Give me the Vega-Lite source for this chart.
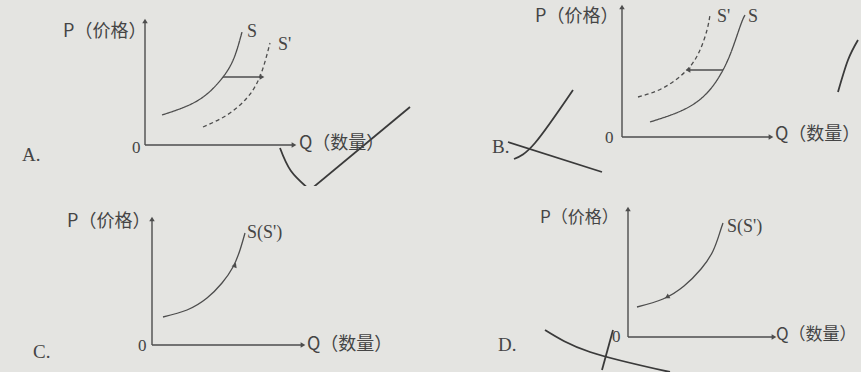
{
  "$schema": "https://vega.github.io/schema/vega-lite/v6.json",
  "background": "#e4e4e1",
  "padding": 0,
  "config": {"view": {"stroke": null}},
  "data": {"values": [
    {"panel":"A","kind":"seg","q":0,"p":0,"q2":0,"p2":12.3},
    {"panel":"A","kind":"seg","q":0,"p":0,"q2":14.8,"p2":0},
    {"panel":"A","kind":"seg","q":7.8,"p":6.8,"q2":11.5,"p2":6.8},
    {"panel":"A","kind":"head","q":0,"p":12.4,"dir":0},
    {"panel":"A","kind":"head","q":14.9,"p":0,"dir":90},
    {"panel":"A","kind":"head","q":11.7,"p":6.8,"dir":90},
    {"panel":"A","kind":"curve","id":"A-S","style":"solid","o":1,"q":1.7,"p":3.0},
    {"panel":"A","kind":"curve","id":"A-S","style":"solid","o":2,"q":4.2,"p":3.9},
    {"panel":"A","kind":"curve","id":"A-S","style":"solid","o":3,"q":6.2,"p":5.1},
    {"panel":"A","kind":"curve","id":"A-S","style":"solid","o":4,"q":7.8,"p":6.8},
    {"panel":"A","kind":"curve","id":"A-S","style":"solid","o":5,"q":8.9,"p":8.7},
    {"panel":"A","kind":"curve","id":"A-S","style":"solid","o":6,"q":9.7,"p":11.3},
    {"panel":"A","kind":"curve","id":"A-S2","style":"dashed","o":1,"q":5.8,"p":1.8},
    {"panel":"A","kind":"curve","id":"A-S2","style":"dashed","o":2,"q":8.2,"p":3.0},
    {"panel":"A","kind":"curve","id":"A-S2","style":"dashed","o":3,"q":10.1,"p":4.6},
    {"panel":"A","kind":"curve","id":"A-S2","style":"dashed","o":4,"q":11.2,"p":6.2},
    {"panel":"A","kind":"curve","id":"A-S2","style":"dashed","o":5,"q":11.9,"p":8.0},
    {"panel":"A","kind":"curve","id":"A-S2","style":"dashed","o":6,"q":12.5,"p":10.2},
    {"panel":"A","kind":"cjk","q":-8.2,"p":11.3,"t":"P（价格）"},
    {"panel":"A","kind":"cjk","q":15.4,"p":0.1,"t":"Q（数量）"},
    {"panel":"A","kind":"serif","role":"zero","q":-1.3,"p":-0.3,"t":"0"},
    {"panel":"A","kind":"serif","role":"letter","q":-12.3,"p":-1.0,"t":"A."},
    {"panel":"A","kind":"serif","role":"curve","q":10.2,"p":11.3,"t":"S"},
    {"panel":"A","kind":"serif","role":"curve","q":13.3,"p":10.0,"t":"S'"},
    {"panel":"A","kind":"pen","id":"A-p1","o":1,"q":13.5,"p":-0.3},
    {"panel":"A","kind":"pen","id":"A-p1","o":2,"q":14.6,"p":-2.6},
    {"panel":"A","kind":"pen","id":"A-p1","o":3,"q":16.5,"p":-4.5},
    {"panel":"A","kind":"pen","id":"A-p2","o":1,"q":16.5,"p":-4.5},
    {"panel":"A","kind":"pen","id":"A-p2","o":2,"q":26.5,"p":3.8},

    {"panel":"B","kind":"seg","q":0,"p":0,"q2":0,"p2":12.9},
    {"panel":"B","kind":"seg","q":0,"p":0,"q2":14.8,"p2":0},
    {"panel":"B","kind":"seg","q":10.1,"p":6.7,"q2":6.7,"p2":6.7},
    {"panel":"B","kind":"head","q":0,"p":13.0,"dir":0},
    {"panel":"B","kind":"head","q":14.9,"p":0,"dir":90},
    {"panel":"B","kind":"head","q":6.6,"p":6.7,"dir":270},
    {"panel":"B","kind":"curve","id":"B-S","style":"solid","o":1,"q":2.8,"p":1.5},
    {"panel":"B","kind":"curve","id":"B-S","style":"solid","o":2,"q":6.1,"p":2.7},
    {"panel":"B","kind":"curve","id":"B-S","style":"solid","o":3,"q":8.5,"p":4.4},
    {"panel":"B","kind":"curve","id":"B-S","style":"solid","o":4,"q":10.1,"p":6.7},
    {"panel":"B","kind":"curve","id":"B-S","style":"solid","o":5,"q":11.1,"p":9.0},
    {"panel":"B","kind":"curve","id":"B-S","style":"solid","o":6,"q":11.9,"p":11.3},
    {"panel":"B","kind":"curve","id":"B-S","style":"solid","o":7,"q":12.3,"p":12.2},
    {"panel":"B","kind":"curve","id":"B-S2","style":"dashed","o":1,"q":1.6,"p":4.0},
    {"panel":"B","kind":"curve","id":"B-S2","style":"dashed","o":2,"q":4.1,"p":4.9},
    {"panel":"B","kind":"curve","id":"B-S2","style":"dashed","o":3,"q":6.5,"p":6.7},
    {"panel":"B","kind":"curve","id":"B-S2","style":"dashed","o":4,"q":7.8,"p":8.7},
    {"panel":"B","kind":"curve","id":"B-S2","style":"dashed","o":5,"q":8.5,"p":10.7},
    {"panel":"B","kind":"curve","id":"B-S2","style":"dashed","o":6,"q":8.8,"p":12.2},
    {"panel":"B","kind":"cjk","q":-8.7,"p":12.0,"t":"P（价格）"},
    {"panel":"B","kind":"cjk","q":15.3,"p":0.2,"t":"Q（数量）"},
    {"panel":"B","kind":"serif","role":"zero","q":-1.7,"p":-0.1,"t":"0"},
    {"panel":"B","kind":"serif","role":"letter","q":-13.0,"p":-1.0,"t":"B."},
    {"panel":"B","kind":"serif","role":"curve","q":9.5,"p":12.0,"t":"S'"},
    {"panel":"B","kind":"serif","role":"curve","q":12.6,"p":12.0,"t":"S"},
    {"panel":"B","kind":"pen","id":"B-p1","o":1,"q":-10.8,"p":-2.2},
    {"panel":"B","kind":"pen","id":"B-p1","o":2,"q":-8.7,"p":-0.6},
    {"panel":"B","kind":"pen","id":"B-p1","o":3,"q":-4.9,"p":4.7},
    {"panel":"B","kind":"pen","id":"B-p2","o":1,"q":-11.4,"p":-0.5},
    {"panel":"B","kind":"pen","id":"B-p2","o":2,"q":-2.0,"p":-3.5},
    {"panel":"B","kind":"pen","id":"B-p3","o":1,"q":21.6,"p":4.5},
    {"panel":"B","kind":"pen","id":"B-p3","o":2,"q":22.6,"p":7.7},
    {"panel":"B","kind":"pen","id":"B-p3","o":3,"q":23.6,"p":9.7},

    {"panel":"C","kind":"seg","q":0,"p":0,"q2":0,"p2":12.5},
    {"panel":"C","kind":"seg","q":0,"p":0,"q2":15.0,"p2":0},
    {"panel":"C","kind":"head","q":0,"p":12.6,"dir":0},
    {"panel":"C","kind":"head","q":15.1,"p":0,"dir":90},
    {"panel":"C","kind":"head","q":8.3,"p":8.0,"dir":22},
    {"panel":"C","kind":"curve","id":"C-S","style":"solid","o":1,"q":1.1,"p":2.8},
    {"panel":"C","kind":"curve","id":"C-S","style":"solid","o":2,"q":3.5,"p":3.5},
    {"panel":"C","kind":"curve","id":"C-S","style":"solid","o":3,"q":5.5,"p":4.7},
    {"panel":"C","kind":"curve","id":"C-S","style":"solid","o":4,"q":7.0,"p":6.2},
    {"panel":"C","kind":"curve","id":"C-S","style":"solid","o":5,"q":8.1,"p":7.8},
    {"panel":"C","kind":"curve","id":"C-S","style":"solid","o":6,"q":8.8,"p":9.5},
    {"panel":"C","kind":"curve","id":"C-S","style":"solid","o":7,"q":9.3,"p":11.2},
    {"panel":"C","kind":"cjk","q":-8.5,"p":12.3,"t":"P（价格）"},
    {"panel":"C","kind":"cjk","q":15.5,"p":0.0,"t":"Q（数量）"},
    {"panel":"C","kind":"serif","role":"zero","q":-1.4,"p":-0.1,"t":"0"},
    {"panel":"C","kind":"serif","role":"letter","q":-11.9,"p":-0.7,"t":"C."},
    {"panel":"C","kind":"serif","role":"curve","q":9.5,"p":11.2,"t":"S(S')"},

    {"panel":"D","kind":"seg","q":0,"p":0,"q2":0,"p2":12.7},
    {"panel":"D","kind":"seg","q":0,"p":0,"q2":14.5,"p2":0},
    {"panel":"D","kind":"head","q":0,"p":12.8,"dir":0},
    {"panel":"D","kind":"head","q":14.6,"p":0,"dir":90},
    {"panel":"D","kind":"head","q":3.9,"p":4.0,"dir":241},
    {"panel":"D","kind":"curve","id":"D-S","style":"solid","o":1,"q":0.9,"p":3.0},
    {"panel":"D","kind":"curve","id":"D-S","style":"solid","o":2,"q":3.5,"p":3.8},
    {"panel":"D","kind":"curve","id":"D-S","style":"solid","o":3,"q":5.6,"p":5.1},
    {"panel":"D","kind":"curve","id":"D-S","style":"solid","o":4,"q":7.3,"p":6.8},
    {"panel":"D","kind":"curve","id":"D-S","style":"solid","o":5,"q":8.5,"p":8.6},
    {"panel":"D","kind":"curve","id":"D-S","style":"solid","o":6,"q":9.2,"p":10.5},
    {"panel":"D","kind":"curve","id":"D-S","style":"solid","o":7,"q":9.5,"p":11.4},
    {"panel":"D","kind":"cjk","q":-8.8,"p":11.9,"t":"P（价格）"},
    {"panel":"D","kind":"cjk","q":14.8,"p":0.2,"t":"Q（数量）"},
    {"panel":"D","kind":"serif","role":"zero","q":-1.6,"p":0.0,"t":"0"},
    {"panel":"D","kind":"serif","role":"letter","q":-13.0,"p":-0.8,"t":"D."},
    {"panel":"D","kind":"serif","role":"curve","q":9.9,"p":11.0,"t":"S(S')"},
    {"panel":"D","kind":"pen","id":"D-p1","o":1,"q":-8.3,"p":0.7},
    {"panel":"D","kind":"pen","id":"D-p1","o":2,"q":-3.8,"p":-1.5},
    {"panel":"D","kind":"pen","id":"D-p1","o":3,"q":4.2,"p":-3.5},
    {"panel":"D","kind":"pen","id":"D-p2","o":1,"q":-1.5,"p":0.7},
    {"panel":"D","kind":"pen","id":"D-p2","o":2,"q":-2.6,"p":-3.3}
  ]},
  "spacing": 0,
  "vconcat": [
    {
      "spacing": 0,
      "hconcat": [
        {
          "width": 430, "height": 186,
          "transform": [{"filter": "datum.panel === 'A'"}],
          "encoding": {
            "x": {"field": "q", "type": "quantitative", "scale": {"domain": [-14.5, 28.5], "nice": false, "zero": false}, "axis": null},
            "y": {"field": "p", "type": "quantitative", "scale": {"domain": [-4.1, 14.5], "nice": false, "zero": false}, "axis": null}
          },
          "layer": [
            {"transform": [{"filter": "datum.kind === 'pen'"}], "mark": {"type": "line", "interpolate": "natural", "color": "#3a3a3a", "strokeWidth": 1.8, "clip": true}, "encoding": {"detail": {"field": "id"}, "order": {"field": "o"}}},
            {"transform": [{"filter": "datum.kind === 'seg'"}], "mark": {"type": "rule", "color": "#4d4d4d", "strokeWidth": 1.4}, "encoding": {"x2": {"field": "q2"}, "y2": {"field": "p2"}}},
            {"transform": [{"filter": "datum.kind === 'curve'"}], "mark": {"type": "line", "interpolate": "natural", "color": "#4d4d4d", "strokeWidth": 1.3}, "encoding": {"detail": {"field": "id"}, "order": {"field": "o"}, "strokeDash": {"field": "style", "type": "nominal", "scale": {"domain": ["solid", "dashed"], "range": [[1, 0], [4, 3]]}, "legend": null}}},
            {"transform": [{"filter": "datum.kind === 'head'"}], "mark": {"type": "point", "filled": true, "shape": "triangle-up", "size": 30, "color": "#4d4d4d", "opacity": 1}, "encoding": {"angle": {"field": "dir", "type": "quantitative", "scale": {"domain": [0, 360], "range": [0, 360]}}}},
            {"transform": [{"filter": "datum.kind === 'cjk'"}], "mark": {"type": "text", "align": "left", "baseline": "middle", "font": "Noto Sans CJK SC", "fontSize": 18, "color": "#454545"}, "encoding": {"text": {"field": "t"}}},
            {"transform": [{"filter": "datum.kind === 'serif'"}], "mark": {"type": "text", "align": "left", "baseline": "middle", "font": "Liberation Serif", "color": "#454545"}, "encoding": {"text": {"field": "t"}, "size": {"field": "role", "type": "nominal", "scale": {"domain": ["letter", "curve", "zero"], "range": [19, 17, 14]}, "legend": null}}}
          ]
        },
        {
          "width": 431, "height": 186,
          "transform": [{"filter": "datum.panel === 'B'"}],
          "encoding": {
            "x": {"field": "q", "type": "quantitative", "scale": {"domain": [-19.2, 23.9], "nice": false, "zero": false}, "axis": null},
            "y": {"field": "p", "type": "quantitative", "scale": {"domain": [-4.9, 13.7], "nice": false, "zero": false}, "axis": null}
          },
          "layer": [
            {"transform": [{"filter": "datum.kind === 'pen'"}], "mark": {"type": "line", "interpolate": "natural", "color": "#3a3a3a", "strokeWidth": 1.8, "clip": true}, "encoding": {"detail": {"field": "id"}, "order": {"field": "o"}}},
            {"transform": [{"filter": "datum.kind === 'seg'"}], "mark": {"type": "rule", "color": "#4d4d4d", "strokeWidth": 1.4}, "encoding": {"x2": {"field": "q2"}, "y2": {"field": "p2"}}},
            {"transform": [{"filter": "datum.kind === 'curve'"}], "mark": {"type": "line", "interpolate": "natural", "color": "#4d4d4d", "strokeWidth": 1.3}, "encoding": {"detail": {"field": "id"}, "order": {"field": "o"}, "strokeDash": {"field": "style", "type": "nominal", "scale": {"domain": ["solid", "dashed"], "range": [[1, 0], [4, 3]]}, "legend": null}}},
            {"transform": [{"filter": "datum.kind === 'head'"}], "mark": {"type": "point", "filled": true, "shape": "triangle-up", "size": 30, "color": "#4d4d4d", "opacity": 1}, "encoding": {"angle": {"field": "dir", "type": "quantitative", "scale": {"domain": [0, 360], "range": [0, 360]}}}},
            {"transform": [{"filter": "datum.kind === 'cjk'"}], "mark": {"type": "text", "align": "left", "baseline": "middle", "font": "Noto Sans CJK SC", "fontSize": 18, "color": "#454545"}, "encoding": {"text": {"field": "t"}}},
            {"transform": [{"filter": "datum.kind === 'serif'"}], "mark": {"type": "text", "align": "left", "baseline": "middle", "font": "Liberation Serif", "color": "#454545"}, "encoding": {"text": {"field": "t"}, "size": {"field": "role", "type": "nominal", "scale": {"domain": ["letter", "curve", "zero"], "range": [19, 17, 14]}, "legend": null}}}
          ]
        }
      ]
    },
    {
      "spacing": 0,
      "hconcat": [
        {
          "width": 430, "height": 186,
          "transform": [{"filter": "datum.panel === 'C'"}],
          "encoding": {
            "x": {"field": "q", "type": "quantitative", "scale": {"domain": [-15.2, 27.8], "nice": false, "zero": false}, "axis": null},
            "y": {"field": "p", "type": "quantitative", "scale": {"domain": [-2.7, 15.9], "nice": false, "zero": false}, "axis": null}
          },
          "layer": [
            {"transform": [{"filter": "datum.kind === 'seg'"}], "mark": {"type": "rule", "color": "#4d4d4d", "strokeWidth": 1.4}, "encoding": {"x2": {"field": "q2"}, "y2": {"field": "p2"}}},
            {"transform": [{"filter": "datum.kind === 'curve'"}], "mark": {"type": "line", "interpolate": "natural", "color": "#4d4d4d", "strokeWidth": 1.3}, "encoding": {"detail": {"field": "id"}, "order": {"field": "o"}}},
            {"transform": [{"filter": "datum.kind === 'head'"}], "mark": {"type": "point", "filled": true, "shape": "triangle-up", "size": 30, "color": "#4d4d4d", "opacity": 1}, "encoding": {"angle": {"field": "dir", "type": "quantitative", "scale": {"domain": [0, 360], "range": [0, 360]}}}},
            {"transform": [{"filter": "datum.kind === 'cjk'"}], "mark": {"type": "text", "align": "left", "baseline": "middle", "font": "Noto Sans CJK SC", "fontSize": 18, "color": "#454545"}, "encoding": {"text": {"field": "t"}}},
            {"transform": [{"filter": "datum.kind === 'serif'"}], "mark": {"type": "text", "align": "left", "baseline": "middle", "font": "Liberation Serif", "color": "#454545"}, "encoding": {"text": {"field": "t"}, "size": {"field": "role", "type": "nominal", "scale": {"domain": ["letter", "curve", "zero"], "range": [19, 17, 14]}, "legend": null}}}
          ]
        },
        {
          "width": 431, "height": 186,
          "transform": [{"filter": "datum.panel === 'D'"}],
          "encoding": {
            "x": {"field": "q", "type": "quantitative", "scale": {"domain": [-19.8, 23.3], "nice": false, "zero": false}, "axis": null},
            "y": {"field": "p", "type": "quantitative", "scale": {"domain": [-3.5, 15.1], "nice": false, "zero": false}, "axis": null}
          },
          "layer": [
            {"transform": [{"filter": "datum.kind === 'pen'"}], "mark": {"type": "line", "interpolate": "natural", "color": "#3a3a3a", "strokeWidth": 1.8, "clip": true}, "encoding": {"detail": {"field": "id"}, "order": {"field": "o"}}},
            {"transform": [{"filter": "datum.kind === 'seg'"}], "mark": {"type": "rule", "color": "#4d4d4d", "strokeWidth": 1.4}, "encoding": {"x2": {"field": "q2"}, "y2": {"field": "p2"}}},
            {"transform": [{"filter": "datum.kind === 'curve'"}], "mark": {"type": "line", "interpolate": "natural", "color": "#4d4d4d", "strokeWidth": 1.3}, "encoding": {"detail": {"field": "id"}, "order": {"field": "o"}}},
            {"transform": [{"filter": "datum.kind === 'head'"}], "mark": {"type": "point", "filled": true, "shape": "triangle-up", "size": 30, "color": "#4d4d4d", "opacity": 1}, "encoding": {"angle": {"field": "dir", "type": "quantitative", "scale": {"domain": [0, 360], "range": [0, 360]}}}},
            {"transform": [{"filter": "datum.kind === 'cjk'"}], "mark": {"type": "text", "align": "left", "baseline": "middle", "font": "Noto Sans CJK SC", "fontSize": 17, "color": "#454545"}, "encoding": {"text": {"field": "t"}}},
            {"transform": [{"filter": "datum.kind === 'serif'"}], "mark": {"type": "text", "align": "left", "baseline": "middle", "font": "Liberation Serif", "color": "#454545"}, "encoding": {"text": {"field": "t"}, "size": {"field": "role", "type": "nominal", "scale": {"domain": ["letter", "curve", "zero"], "range": [19, 17, 14]}, "legend": null}}}
          ]
        }
      ]
    }
  ]
}
